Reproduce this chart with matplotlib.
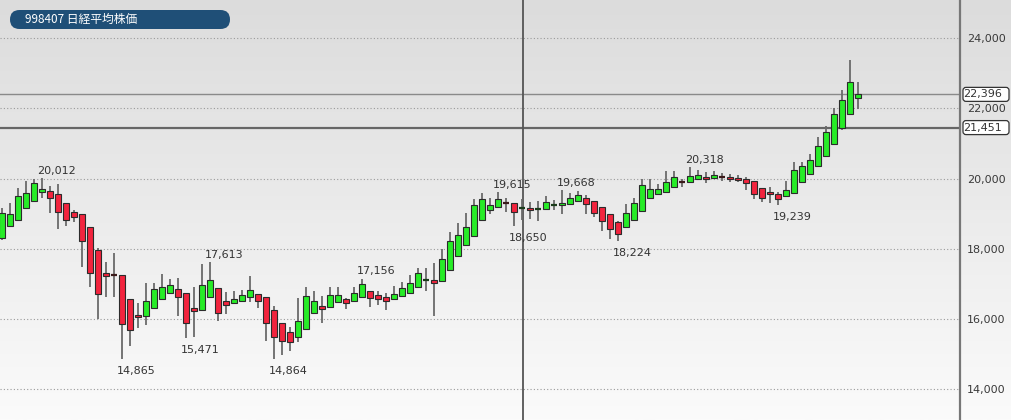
import matplotlib
matplotlib.use("Agg")
import matplotlib.pyplot as plt
import numpy as np
from matplotlib.patches import Rectangle, FancyBboxPatch
from matplotlib.transforms import IdentityTransform
from matplotlib.colors import LinearSegmentedColormap

title = "998407 日経平均株価"

opens = [18300, 18650, 18820, 19170, 19370, 19630, 19655, 19555, 19300, 19060,
         18995, 18615, 17970, 17325, 17260, 17255, 16565, 16120, 16090, 16310,
         16585, 16755, 16850, 16735, 16320, 16260, 16625, 16880, 16525, 16450,
         16520, 16625, 16715, 16625, 16260, 15885, 15625, 15500, 15720, 16185,
         16375, 16340, 16500, 16585, 16525, 16640, 16810, 16695, 16640, 16585,
         16660, 16755, 16905, 17110, 17115, 17080, 17400, 17800, 18100, 18365,
         18820, 19105, 19185, 19300, 19300, 19170, 19170, 19140, 19145, 19255,
         19240, 19275, 19365, 19440, 19365, 19185, 18995, 18775, 18615, 18820,
         19070, 19440, 19560, 19625, 19770, 19915, 19910, 20000, 20035, 20015,
         20045, 20055, 20025, 19990, 19930, 19740, 19610, 19570, 19495, 19590,
         19910, 20140, 20350, 20635, 20975, 21450, 21830, 22300]
highs = [19155, 19300, 19725, 19940, 19980, 20012, 19800, 19845, 19310, 19105,
         19000, 18620, 18015, 17620, 17875, 17260, 16570, 16450, 17020, 17020,
         17275, 17135, 17165, 16740, 16925, 17560, 17613, 16885, 16780, 16810,
         16830, 17230, 16720, 16630, 16375, 15890, 15785, 16595, 16925, 16810,
         16660, 16925, 16925, 16605, 16925, 17156, 16815, 16795, 16735, 16945,
         17060, 17265, 17450, 17450, 17590, 18005, 18470, 18730, 19030, 19410,
         19580, 19450, 19615, 19455, 19305, 19410, 19345, 19370, 19505, 19390,
         19668, 19600, 19650, 19525, 19370, 19190, 19000, 18780, 19275, 19440,
         19980, 19980, 19845, 20225, 20225, 19980, 20318, 20245, 20190, 20225,
         20150, 20130, 20095, 20055, 19935, 19745, 19770, 19625, 19930, 20465,
         20465, 20690, 21190, 21490, 22000, 22530, 23375, 22740]
lows = [18250, 18630, 18800, 19155, 19355, 19440, 19015, 18560, 18650, 18755,
        17495, 16925, 16000, 16640, 16625, 14865, 15235, 15740, 15835, 16280,
        16565, 16735, 16090, 15471, 15500, 16250, 16615, 15960, 16150, 16430,
        16500, 16500, 16310, 15390, 14864, 14980, 15105, 15360, 15715, 16170,
        15900, 16320, 16480, 16300, 16510, 16625, 16355, 16395, 16260, 16545,
        16640, 16735, 16885, 16795, 16090, 17060, 17380, 17780, 18080, 18345,
        18800, 18985, 19155, 19060, 18650, 18820, 18840, 18800, 19125, 19105,
        18995, 19255, 19340, 18995, 18900, 18520, 18275, 18224, 18595, 18800,
        19050, 19420, 19540, 19610, 19750, 19750, 19895, 19960, 19865, 19995,
        19940, 19910, 19910, 19675, 19420, 19345, 19295, 19239, 19475, 19570,
        19895, 20120, 20330, 20615, 20955, 21390, 21810, 21980]
closes = [19015, 18995, 19515, 19580, 19865, 19695, 19440, 19060, 18820, 18915,
          18235, 17305, 16710, 17220, 17250, 15865, 15695, 16055, 16525, 16850,
          16925, 16975, 16625, 15885, 16240, 16965, 17115, 16185, 16395, 16565,
          16695, 16820, 16525, 15900, 15485, 15380, 15360, 15940, 16660, 16525,
          16300, 16680, 16680, 16470, 16755, 17000, 16595, 16585, 16525, 16715,
          16885, 17020, 17305, 17120, 17040, 17720, 18215, 18405, 18630, 19255,
          19410, 19240, 19410, 19295, 19050, 19175, 19105, 19145, 19345, 19260,
          19315, 19450, 19530, 19275, 19030, 18800, 18560, 18425, 19030, 19295,
          19820, 19695, 19695, 19910, 20055, 19905, 20080, 20095, 20000, 20095,
          20040, 20000, 19960, 19875, 19560, 19455, 19555, 19420, 19665, 20235,
          20350, 20530, 20920, 21335, 21830, 22230, 22755, 22396]

label_idx = [5, 15, 23, 26, 34, 45, 62, 64, 70, 77, 86, 97]
label_kind = ["high", "low", "low", "high", "low", "high", "high", "low", "high", "low", "high", "low"]

yticks = [14000, 16000, 18000, 20000, 22000, 24000]
price_lines = [22396, 21451]
crosshair_idx = 65

W, H = 1011, 420
fig = plt.figure(figsize=(W / 100, H / 100), dpi=100)

# background gradient
bg = fig.add_axes([0, 0, 1, 1], zorder=0)
grad = np.linspace(0, 1, 256).reshape(-1, 1)
cmap = LinearSegmentedColormap.from_list("bg", ["#dcdcdc", "#ebebeb", "#fbfbfb"])
bg.imshow(grad, aspect="auto", cmap=cmap, extent=[0, 1, 0, 1], origin="upper")
bg.set_xlim(0, 1); bg.set_ylim(0, 1)
bg.axis("off")

ax = fig.add_axes([0, 0, 960 / W, 1], zorder=1)
ax.set_facecolor("none")
ax.set_xlim(-0.25, 119.75)
ax.set_ylim(13132, 25081)

for s in ["left", "top", "bottom"]:
    ax.spines[s].set_visible(False)
ax.spines["right"].set_color("#777777")
ax.spines["right"].set_linewidth(1.6)
ax.yaxis.tick_right()
ax.set_yticks(yticks)
ax.set_yticklabels([f"{v:,}" for v in yticks], fontsize=8, color="#3a3a3a")
ax.tick_params(axis="y", length=0, pad=5)
for t in ax.get_yticklabels():
    t.set_y(t.get_position()[1])
ax.set_xticks([])

for v in yticks:
    ax.axhline(v, color="#9a9a9a", lw=0.8, ls=(0, (1, 2)), zorder=1)

ax.axhline(price_lines[0], color="#8a8a8a", lw=1.0, zorder=2)
ax.axhline(price_lines[1], color="#666666", lw=1.6, zorder=2)
ax.axvline(crosshair_idx + 0.12, color="#555555", lw=1.3, zorder=2)

bw = 0.75
for i, (o, h, l, c) in enumerate(zip(opens, highs, lows, closes)):
    ax.plot([i, i], [l, h], color="#6a6a6a", lw=1.3, zorder=3, solid_capstyle="butt")
    if abs(c - o) < 20:
        col = "#3b1a1a" if c < o else "#1a3b1a"
        ax.plot([i - bw / 2, i + bw / 2], [o, o], color=col, lw=1.6, zorder=4,
                solid_capstyle="butt")
    else:
        fc = "#27ec27" if c > o else "#f2243e"
        ax.add_patch(Rectangle((i - bw / 2, min(o, c)), bw, abs(c - o),
                               facecolor=fc, edgecolor="#2b2b2b", lw=0.8, zorder=4))

for idx, kind in zip(label_idx, label_kind):
    if kind == "high":
        v = highs[idx]
        ax.annotate(f"{v:,}", (idx, v), xytext=(-5, 2.5), textcoords="offset pixels",
                    ha="left", va="bottom", fontsize=8, color="#333333", zorder=5)
    else:
        v = lows[idx]
        ax.annotate(f"{v:,}", (idx, v), xytext=(-5, -7), textcoords="offset pixels",
                    ha="left", va="top", fontsize=8, color="#333333", zorder=5)

# price line label boxes
fig.canvas.draw()
for v in price_lines:
    yd = ax.transData.transform((0, v))[1]
    box = FancyBboxPatch((963, yd - 7), 46, 14, boxstyle="round,pad=0,rounding_size=3",
                         transform=IdentityTransform(), facecolor="white",
                         edgecolor="#333333", lw=0.9, zorder=6)
    fig.add_artist(box)
    fig.text(963.5, yd, f"{v:,}", transform=IdentityTransform(), fontsize=8,
             color="#333333", ha="left", va="center", zorder=7)

# title pill
pill = FancyBboxPatch((10, H - 29), 220, 19, boxstyle="round,pad=0,rounding_size=9.5",
                      transform=IdentityTransform(), facecolor="#1f4f77",
                      edgecolor="none", zorder=6)
fig.add_artist(pill)
fig.text(25, H - 19.5, title, transform=IdentityTransform(), fontsize=8.5,
         color="white", ha="left", va="center", zorder=7,
         family=["Noto Sans CJK JP", "DejaVu Sans"])

fig.savefig("out.png", dpi=100)
